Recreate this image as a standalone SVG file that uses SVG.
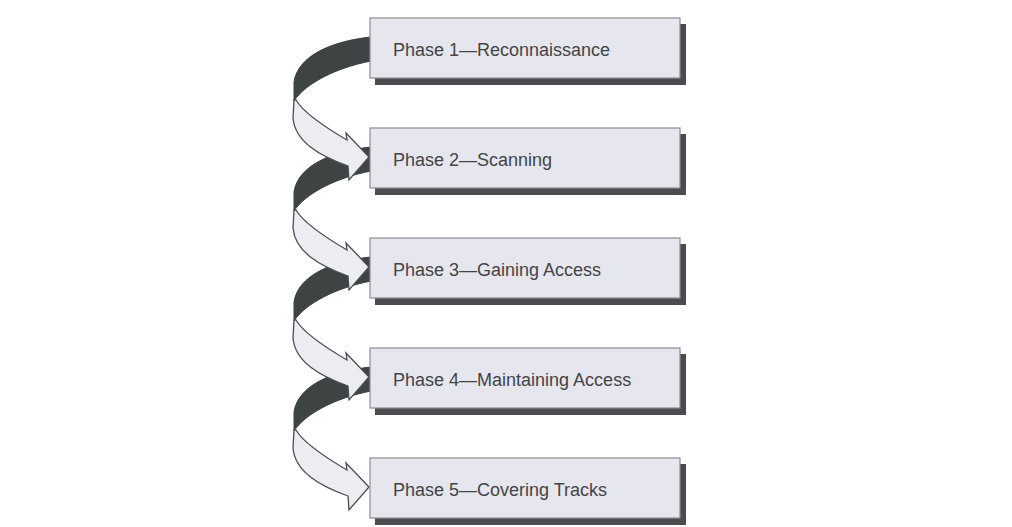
<svg xmlns="http://www.w3.org/2000/svg" width="1012" height="527" viewBox="0 0 1012 527">
<defs>
<style>
.dark{fill:#3e4444;stroke:#3a3f3f;stroke-width:1}
.light{fill:#ececf1;stroke:#4a4e54;stroke-width:1.3;stroke-linejoin:miter}
.shadow{fill:#4b4c50}
.box{fill:#e6e6ee;stroke:#8c8d94;stroke-width:1.2}
.lbl{font-family:"Liberation Sans",Arial,sans-serif;font-size:18px;fill:#444447}
</style>
<path id="darkp" d="M 371 37 C 333 41, 298 55, 294 82 L 294 101 C 305 84, 335 68, 371 61 Z"/>
<path id="lightp" d="M 296 100 C 303 112, 323 126, 347 140 L 346 133 L 369 157 L 349 180 L 348 166 C 320 156, 295 142, 293 118 L 294 100 Z"/>
</defs>
<rect width="1012" height="527" fill="#ffffff"/>
<g id="connectors">
<use href="#darkp" class="dark"/>
<use href="#darkp" class="dark" transform="translate(0,110)"/>
<use href="#darkp" class="dark" transform="translate(0,220)"/>
<use href="#darkp" class="dark" transform="translate(0,330)"/>
<use href="#lightp" class="light"/>
<use href="#lightp" class="light" transform="translate(0,110)"/>
<use href="#lightp" class="light" transform="translate(0,220)"/>
<use href="#lightp" class="light" transform="translate(0,330)"/>
</g>
<g id="phase1">
<rect class="shadow" x="375" y="24" width="311" height="61"/>
<rect class="box" x="370" y="18" width="310" height="60"/>
<text class="lbl" x="393" y="56">Phase 1—Reconnaissance</text>
</g>
<g id="phase2">
<rect class="shadow" x="375" y="134" width="311" height="61"/>
<rect class="box" x="370" y="128" width="310" height="60"/>
<text class="lbl" x="393" y="166">Phase 2—Scanning</text>
</g>
<g id="phase3">
<rect class="shadow" x="375" y="244" width="311" height="61"/>
<rect class="box" x="370" y="238" width="310" height="60"/>
<text class="lbl" x="393" y="276">Phase 3—Gaining Access</text>
</g>
<g id="phase4">
<rect class="shadow" x="375" y="354" width="311" height="61"/>
<rect class="box" x="370" y="348" width="310" height="60"/>
<text class="lbl" x="393" y="386">Phase 4—Maintaining Access</text>
</g>
<g id="phase5">
<rect class="shadow" x="375" y="464" width="311" height="61"/>
<rect class="box" x="370" y="458" width="310" height="60"/>
<text class="lbl" x="393" y="496">Phase 5—Covering Tracks</text>
</g>
</svg>
